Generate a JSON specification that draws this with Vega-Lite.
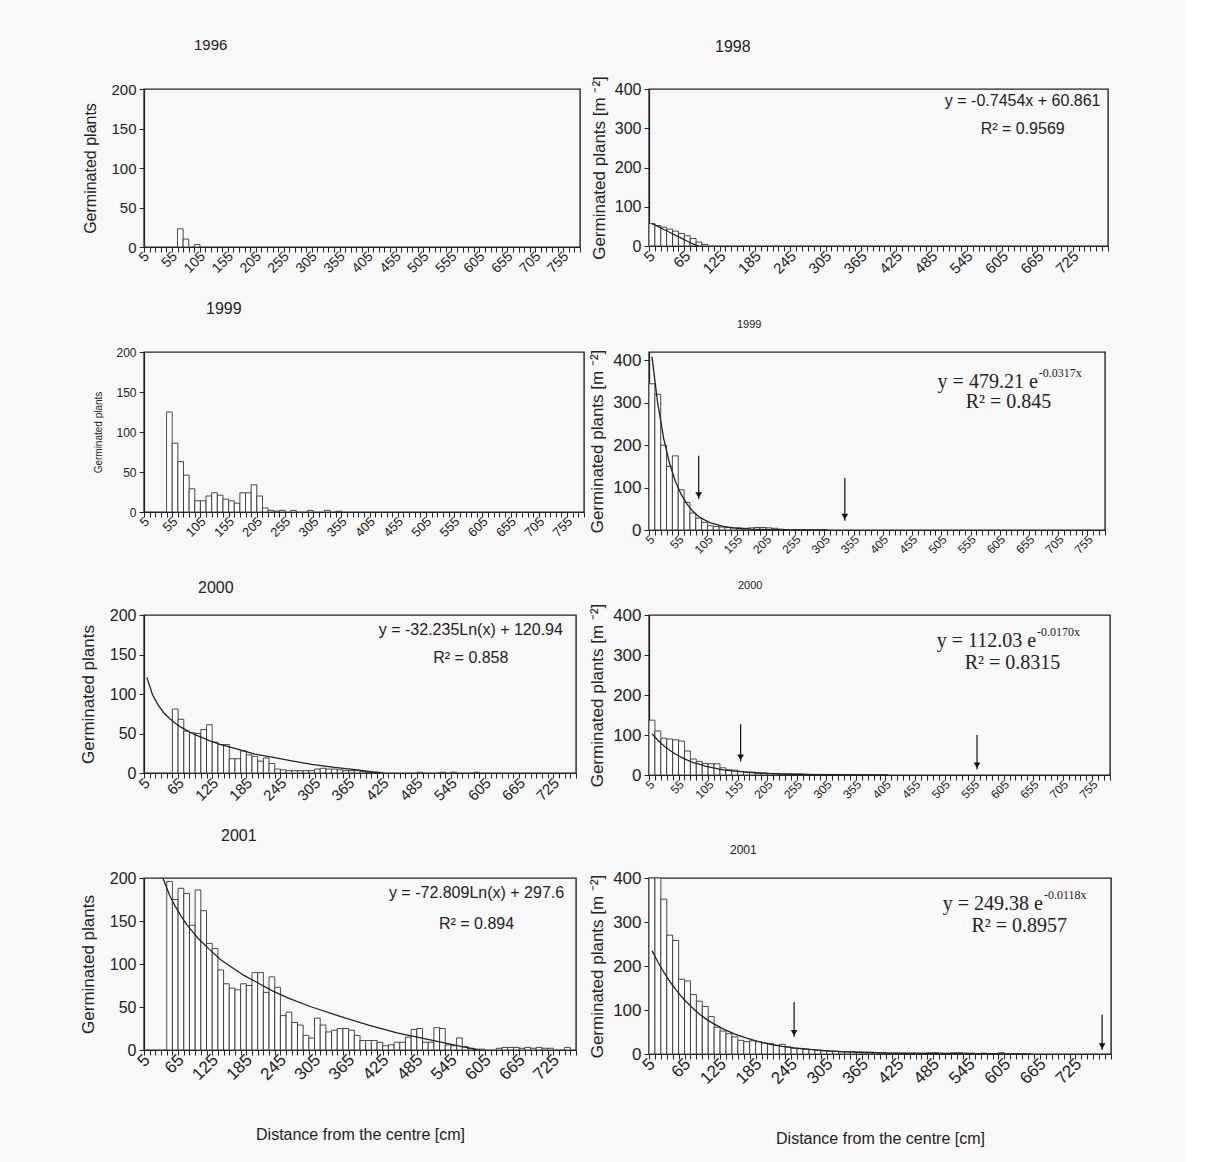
{
  "$schema": "https://vega.github.io/schema/vega-lite/v6.json",
  "background": "#f8f8f8",
  "padding": {"left": 78, "top": 37, "right": 70, "bottom": 20},
  "columns": 2,
  "spacing": {"row": 22, "column": 0},
  "bounds": "full",
  "config": {
    "font": "Liberation Sans",
    "view": {"stroke": "#222", "strokeWidth": 1.4},
    "axis": {"grid": false, "domainColor": "#222", "tickColor": "#222", "labelColor": "#222", "titleColor": "#222", "labelFont": "Liberation Sans", "titleFont": "Liberation Sans", "titleFontWeight": "normal", "domainWidth": 1.2, "tickWidth": 1},
    "axisY": {"labelOverlap": false},
    "title": {"font": "Liberation Sans", "fontWeight": "normal", "color": "#222"},
    "bar": {"fill": "white", "stroke": "#333", "strokeWidth": 0.9},
    "line": {"stroke": "#222", "strokeWidth": 1.3},
    "text": {"font": "Liberation Sans", "color": "#222"}
  },
  "datasets": {
    "b96": [{"d":65,"v":23},{"d":75,"v":10},{"d":95,"v":3}],
    "b98": [{"d":5,"v":57},{"d":15,"v":52},{"d":25,"v":48},{"d":35,"v":43},{"d":45,"v":38},{"d":55,"v":32},{"d":65,"v":26},{"d":75,"v":19},{"d":85,"v":10},{"d":95,"v":4}],
    "l98": [{"d":5,"v":57},{"d":15,"v":50},{"d":25,"v":42},{"d":35,"v":35},{"d":45,"v":27},{"d":55,"v":20},{"d":65,"v":12},{"d":75,"v":5},{"d":85,"v":0}],
    "t98": [{"d":635,"v":370,"t":"y = -0.7454x + 60.861"},{"d":635,"v":299,"t":"R² = 0.9569"}],
    "b99L": [{"d":45,"v":125},{"d":55,"v":86},{"d":65,"v":63},{"d":75,"v":46},{"d":85,"v":29},{"d":95,"v":14},{"d":105,"v":14},{"d":115,"v":20},{"d":125,"v":24},{"d":135,"v":21},{"d":145,"v":16},{"d":155,"v":14},{"d":165,"v":11},{"d":175,"v":24},{"d":185,"v":24},{"d":195,"v":34},{"d":205,"v":20},{"d":215,"v":5},{"d":225,"v":2},{"d":235,"v":1},{"d":245,"v":2},{"d":265,"v":2},{"d":295,"v":2},{"d":325,"v":2},{"d":345,"v":1}],
    "b99R": [{"d":5,"v":345},{"d":15,"v":320},{"d":25,"v":200},{"d":35,"v":150},{"d":45,"v":175},{"d":55,"v":95},{"d":65,"v":65},{"d":75,"v":40},{"d":85,"v":28},{"d":95,"v":18},{"d":105,"v":10},{"d":115,"v":8},{"d":125,"v":7},{"d":135,"v":6},{"d":145,"v":5},{"d":155,"v":5},{"d":165,"v":4},{"d":175,"v":5},{"d":185,"v":6},{"d":195,"v":6},{"d":205,"v":5},{"d":215,"v":4},{"d":225,"v":2},{"d":235,"v":1}],
    "l99R": [{"d":5,"v":409},{"d":15,"v":298},{"d":25,"v":217},{"d":35,"v":158},{"d":45,"v":115},{"d":55,"v":84},{"d":65,"v":61},{"d":75,"v":44},{"d":85,"v":32},{"d":95,"v":24},{"d":105,"v":17},{"d":115,"v":13},{"d":125,"v":9},{"d":135,"v":7},{"d":145,"v":5},{"d":155,"v":3.5},{"d":175,"v":2},{"d":205,"v":1},{"d":245,"v":0.3},{"d":305,"v":0}],
    "a99R": [{"d":85,"top":175,"tip":73},{"d":335,"top":123,"tip":22}],
    "e99R": [{"d":665,"v":349,"t":"y = 479.21 e","s":"-0.0317x"}],
    "r99R": [{"d":615,"v":302,"t":"R² = 0.845"}],
    "b00L": [{"d":55,"v":81},{"d":65,"v":68},{"d":75,"v":53},{"d":85,"v":51},{"d":95,"v":50},{"d":105,"v":55},{"d":115,"v":61},{"d":125,"v":39},{"d":135,"v":36},{"d":145,"v":36},{"d":155,"v":18},{"d":165,"v":18},{"d":175,"v":28},{"d":185,"v":23},{"d":195,"v":21},{"d":205,"v":15},{"d":215,"v":19},{"d":225,"v":12},{"d":235,"v":5},{"d":245,"v":4},{"d":255,"v":3},{"d":265,"v":3},{"d":275,"v":3},{"d":285,"v":3},{"d":295,"v":3},{"d":305,"v":5},{"d":315,"v":6},{"d":325,"v":5},{"d":335,"v":5},{"d":345,"v":4},{"d":355,"v":3},{"d":365,"v":3},{"d":375,"v":3},{"d":385,"v":2},{"d":395,"v":1},{"d":405,"v":1},{"d":415,"v":1},{"d":485,"v":1},{"d":525,"v":1},{"d":545,"v":1},{"d":585,"v":1}],
    "l00L": [{"d":5,"v":121},{"d":15,"v":99},{"d":25,"v":86},{"d":35,"v":76},{"d":45,"v":69},{"d":55,"v":63},{"d":65,"v":58},{"d":75,"v":54},{"d":85,"v":50},{"d":95,"v":47},{"d":115,"v":41},{"d":135,"v":36},{"d":155,"v":32},{"d":175,"v":28},{"d":195,"v":24},{"d":225,"v":20},{"d":255,"v":16},{"d":295,"v":11},{"d":335,"v":7},{"d":375,"v":4},{"d":405,"v":1.2},{"d":415,"v":0.4}],
    "t00L": [{"d":575,"v":181,"t":"y = -32.235Ln(x) + 120.94"},{"d":575,"v":145,"t":"R² = 0.858"}],
    "b00R": [{"d":5,"v":137},{"d":15,"v":110},{"d":25,"v":92},{"d":35,"v":90},{"d":45,"v":88},{"d":55,"v":85},{"d":65,"v":60},{"d":75,"v":40},{"d":85,"v":34},{"d":95,"v":29},{"d":105,"v":28},{"d":115,"v":28},{"d":125,"v":18},{"d":135,"v":13},{"d":145,"v":12},{"d":155,"v":9},{"d":165,"v":7},{"d":175,"v":7},{"d":185,"v":5},{"d":195,"v":5},{"d":205,"v":4},{"d":215,"v":4},{"d":225,"v":3},{"d":235,"v":3},{"d":245,"v":3},{"d":255,"v":3},{"d":265,"v":2}],
    "l00R": [{"d":5,"v":103},{"d":15,"v":87},{"d":25,"v":73},{"d":35,"v":62},{"d":45,"v":52},{"d":55,"v":44},{"d":65,"v":37},{"d":75,"v":31},{"d":85,"v":27},{"d":95,"v":22},{"d":105,"v":19},{"d":125,"v":13},{"d":145,"v":9.5},{"d":165,"v":7},{"d":185,"v":5},{"d":205,"v":3.4},{"d":245,"v":1.7},{"d":305,"v":0.6},{"d":405,"v":0.1}],
    "a00R": [{"d":155,"top":127,"tip":34},{"d":555,"top":100,"tip":14}],
    "e00R": [{"d":655,"v":334,"t":"y = 112.03 e","s":"-0.0170x"}],
    "r00R": [{"d":615,"v":281,"t":"R² = 0.8315"}],
    "b01L": [{"d":45,"v":196},{"d":55,"v":175},{"d":65,"v":188},{"d":75,"v":182},{"d":85,"v":145},{"d":95,"v":186},{"d":105,"v":162},{"d":115,"v":124},{"d":125,"v":118},{"d":135,"v":93},{"d":145,"v":77},{"d":155,"v":72},{"d":165,"v":70},{"d":175,"v":77},{"d":185,"v":75},{"d":195,"v":90},{"d":205,"v":90},{"d":215,"v":67},{"d":225,"v":85},{"d":235,"v":73},{"d":245,"v":40},{"d":255,"v":44},{"d":265,"v":32},{"d":275,"v":29},{"d":285,"v":17},{"d":295,"v":14},{"d":305,"v":37},{"d":315,"v":29},{"d":325,"v":21},{"d":335,"v":23},{"d":345,"v":25},{"d":355,"v":25},{"d":365,"v":23},{"d":375,"v":17},{"d":385,"v":11},{"d":395,"v":11},{"d":405,"v":11},{"d":415,"v":9},{"d":425,"v":5},{"d":435,"v":6},{"d":445,"v":9},{"d":455,"v":9},{"d":465,"v":15},{"d":475,"v":24},{"d":485,"v":25},{"d":495,"v":9},{"d":505,"v":9},{"d":515,"v":26},{"d":525,"v":25},{"d":535,"v":6},{"d":545,"v":5},{"d":555,"v":14},{"d":565,"v":4},{"d":575,"v":2},{"d":585,"v":1},{"d":595,"v":1},{"d":625,"v":2},{"d":635,"v":3},{"d":645,"v":3},{"d":655,"v":3},{"d":665,"v":2},{"d":675,"v":3},{"d":685,"v":2},{"d":695,"v":3},{"d":705,"v":2},{"d":715,"v":2},{"d":745,"v":3}],
    "l01L": [{"d":25,"v":218},{"d":35,"v":197},{"d":45,"v":180},{"d":55,"v":167},{"d":65,"v":156},{"d":75,"v":146},{"d":85,"v":138},{"d":95,"v":130},{"d":115,"v":117},{"d":135,"v":105},{"d":155,"v":96},{"d":175,"v":87},{"d":195,"v":80},{"d":225,"v":69},{"d":255,"v":60},{"d":295,"v":50},{"d":345,"v":39},{"d":395,"v":29},{"d":445,"v":20},{"d":495,"v":13},{"d":545,"v":6},{"d":575,"v":2},{"d":585,"v":0.7}],
    "t01L": [{"d":585,"v":183,"t":"y = -72.809Ln(x) + 297.6"},{"d":585,"v":147,"t":"R² = 0.894"}],
    "b01R": [{"d":5,"v":400},{"d":15,"v":400},{"d":25,"v":352},{"d":35,"v":270},{"d":45,"v":258},{"d":55,"v":170},{"d":65,"v":166},{"d":75,"v":135},{"d":85,"v":120},{"d":95,"v":108},{"d":105,"v":85},{"d":115,"v":61},{"d":125,"v":52},{"d":135,"v":46},{"d":145,"v":39},{"d":155,"v":31},{"d":165,"v":28},{"d":175,"v":30},{"d":185,"v":28},{"d":195,"v":25},{"d":205,"v":24},{"d":215,"v":20},{"d":225,"v":22},{"d":235,"v":16},{"d":245,"v":13},{"d":255,"v":12},{"d":265,"v":11},{"d":275,"v":10},{"d":285,"v":9},{"d":295,"v":7},{"d":305,"v":6},{"d":315,"v":6},{"d":325,"v":5},{"d":335,"v":5},{"d":345,"v":5},{"d":355,"v":4},{"d":365,"v":4},{"d":375,"v":4},{"d":385,"v":3},{"d":395,"v":3},{"d":405,"v":2},{"d":415,"v":2},{"d":425,"v":2},{"d":435,"v":2},{"d":445,"v":2},{"d":455,"v":2},{"d":465,"v":2},{"d":475,"v":3},{"d":485,"v":3},{"d":495,"v":2},{"d":505,"v":2},{"d":515,"v":3},{"d":525,"v":3},{"d":535,"v":2},{"d":545,"v":2},{"d":555,"v":1},{"d":565,"v":2},{"d":575,"v":1},{"d":585,"v":1},{"d":595,"v":3}],
    "l01R": [{"d":5,"v":235},{"d":15,"v":209},{"d":25,"v":186},{"d":35,"v":165},{"d":45,"v":147},{"d":55,"v":130},{"d":65,"v":116},{"d":75,"v":103},{"d":85,"v":91},{"d":95,"v":81},{"d":105,"v":72},{"d":125,"v":57},{"d":145,"v":45},{"d":165,"v":36},{"d":185,"v":28},{"d":205,"v":22},{"d":225,"v":17.5},{"d":245,"v":14},{"d":285,"v":9},{"d":325,"v":5.4},{"d":365,"v":3.4},{"d":405,"v":2.1},{"d":485,"v":0.8},{"d":565,"v":0.3},{"d":645,"v":0.1}],
    "a01R": [{"d":245,"top":118,"tip":39},{"d":765,"top":89,"tip":9}],
    "e01R": [{"d":665,"v":341,"t":"y = 249.38 e","s":"-0.0118x"}],
    "r01R": [{"d":625,"v":292,"t":"R² = 0.8957"}]
  },
  "concat": [
    {
      "width": 436, "height": 158,
      "title": {"text": "1996", "anchor": "start", "frame": "group", "dx": 50, "offset": 29, "fontSize": 15},
      "encoding": {"x": {"field": "d", "type": "ordinal", "scale": {"domain": [5,15,25,35,45,55,65,75,85,95,105,115,125,135,145,155,165,175,185,195,205,215,225,235,245,255,265,275,285,295,305,315,325,335,345,355,365,375,385,395,405,415,425,435,445,455,465,475,485,495,505,515,525,535,545,555,565,575,585,595,605,615,625,635,645,655,665,675,685,695,705,715,725,735,745,755,765,775], "paddingInner": 0, "paddingOuter": 0},
        "axis": {"title": null, "labelAngle": -45, "labelAlign": "right", "labelBaseline": "middle", "labelExpr": "(datum.value - 5) % 50 == 0 ? datum.value : ''", "labelOverlap": false, "tickBand": "extent", "tickSize": 5, "labelFontSize": 14, "labelPadding": 2}}},
      "layer": [
        {"data": {"name": "b96"}, "mark": "bar", "encoding": {"y": {"field": "v", "type": "quantitative", "scale": {"domain": [0, 200], "nice": false}, "axis": {"title": "Germinated plants", "values": [0,50,100,150,200], "labelOverlap": false, "tickSize": 5, "labelFontSize": 15, "titleFontSize": 16, "titlePadding": 12, "labelPadding": 3}}}}
      ]
    },
    {
      "width": 459, "height": 157,
      "title": {"text": "1998", "anchor": "start", "frame": "group", "dx": 66, "offset": 21, "fontSize": 16},
      "encoding": {"x": {"field": "d", "type": "ordinal", "scale": {"domain": [5,15,25,35,45,55,65,75,85,95,105,115,125,135,145,155,165,175,185,195,205,215,225,235,245,255,265,275,285,295,305,315,325,335,345,355,365,375,385,395,405,415,425,435,445,455,465,475,485,495,505,515,525,535,545,555,565,575,585,595,605,615,625,635,645,655,665,675,685,695,705,715,725,735,745,755,765,775], "paddingInner": 0, "paddingOuter": 0},
        "axis": {"title": null, "labelAngle": -45, "labelAlign": "right", "labelBaseline": "middle", "labelExpr": "(datum.value - 5) % 60 == 0 ? datum.value : ''", "labelOverlap": false, "tickBand": "extent", "tickSize": 5, "labelFontSize": 15, "labelPadding": 2}}},
      "layer": [
        {"data": {"name": "b98"}, "mark": "bar", "encoding": {"y": {"field": "v", "type": "quantitative", "scale": {"domain": [0, 400], "nice": false}, "axis": {"title": "Germinated plants [m ⁻²]", "values": [0,100,200,300,400], "labelOverlap": false, "tickSize": 5, "labelFontSize": 16, "titleFontSize": 17, "titlePadding": 6, "labelPadding": 3}}}},
        {"data": {"name": "l98"}, "mark": {"type": "line", "clip": true}, "encoding": {"y": {"field": "v", "type": "quantitative", "axis": {"values": [0,100,200,300,400]}}}},
        {"data": {"name": "t98"}, "mark": {"type": "text", "fontSize": 16, "align": "center", "baseline": "middle"}, "encoding": {"y": {"field": "v", "type": "quantitative", "axis": {"values": [0,100,200,300,400]}}, "text": {"field": "t"}}}
      ]
    },
    {
      "width": 440, "height": 160,
      "title": {"text": "1999", "anchor": "start", "frame": "group", "dx": 62, "offset": 29, "fontSize": 16},
      "encoding": {"x": {"field": "d", "type": "ordinal", "scale": {"domain": [5,15,25,35,45,55,65,75,85,95,105,115,125,135,145,155,165,175,185,195,205,215,225,235,245,255,265,275,285,295,305,315,325,335,345,355,365,375,385,395,405,415,425,435,445,455,465,475,485,495,505,515,525,535,545,555,565,575,585,595,605,615,625,635,645,655,665,675,685,695,705,715,725,735,745,755,765,775], "paddingInner": 0, "paddingOuter": 0},
        "axis": {"title": null, "labelAngle": -45, "labelAlign": "right", "labelBaseline": "middle", "labelExpr": "(datum.value - 5) % 50 == 0 ? datum.value : ''", "labelOverlap": false, "tickBand": "extent", "tickSize": 5, "labelFontSize": 13, "labelPadding": 2}}},
      "layer": [
        {"data": {"name": "b99L"}, "mark": "bar", "encoding": {"y": {"field": "v", "type": "quantitative", "scale": {"domain": [0, 200], "nice": false}, "axis": {"title": "Germinated plants", "values": [0,50,100,150,200], "labelOverlap": false, "tickSize": 5, "labelFontSize": 12, "titleFontSize": 10, "titlePadding": 12, "labelPadding": 3}}}}
      ]
    },
    {
      "width": 456, "height": 178,
      "title": {"text": "1999", "anchor": "start", "frame": "group", "dx": 88, "offset": 19, "fontSize": 11},
      "encoding": {"x": {"field": "d", "type": "ordinal", "scale": {"domain": [5,15,25,35,45,55,65,75,85,95,105,115,125,135,145,155,165,175,185,195,205,215,225,235,245,255,265,275,285,295,305,315,325,335,345,355,365,375,385,395,405,415,425,435,445,455,465,475,485,495,505,515,525,535,545,555,565,575,585,595,605,615,625,635,645,655,665,675,685,695,705,715,725,735,745,755,765,775], "paddingInner": 0, "paddingOuter": 0},
        "axis": {"title": null, "labelAngle": -45, "labelAlign": "right", "labelBaseline": "middle", "labelExpr": "(datum.value - 5) % 50 == 0 ? datum.value : ''", "labelOverlap": false, "tickBand": "extent", "tickSize": 5, "labelFontSize": 12, "labelPadding": 2}}},
      "layer": [
        {"data": {"name": "b99R"}, "mark": "bar", "encoding": {"y": {"field": "v", "type": "quantitative", "scale": {"domain": [0, 420], "nice": false}, "axis": {"title": "Germinated plants [m ⁻²]", "values": [0,100,200,300,400], "labelOverlap": false, "tickSize": 5, "labelFontSize": 17, "titleFontSize": 17, "titlePadding": 6, "labelPadding": 3}}}},
        {"data": {"name": "l99R"}, "mark": {"type": "line", "clip": true}, "encoding": {"y": {"field": "v", "type": "quantitative", "axis": {"values": [0,100,200,300,400]}}}},
        {"data": {"name": "a99R"}, "mark": {"type": "rule", "color": "#111", "strokeWidth": 1.2}, "encoding": {"y": {"field": "top", "type": "quantitative", "axis": {"values": [0,100,200,300,400]}}, "y2": {"field": "tip"}}},
        {"data": {"name": "a99R"}, "mark": {"type": "point", "shape": "triangle-down", "filled": true, "color": "#111", "size": 45, "opacity": 1, "yOffset": -4}, "encoding": {"y": {"field": "tip", "type": "quantitative", "axis": {"values": [0,100,200,300,400]}}}},
        {"data": {"name": "e99R"}, "mark": {"type": "text", "font": "Liberation Serif", "fontSize": 20, "align": "right", "baseline": "middle"}, "encoding": {"y": {"field": "v", "type": "quantitative", "axis": {"values": [0,100,200,300,400]}}, "text": {"field": "t"}}},
        {"data": {"name": "e99R"}, "mark": {"type": "text", "font": "Liberation Serif", "fontSize": 12, "align": "left", "baseline": "middle", "dx": 1, "dy": -9}, "encoding": {"y": {"field": "v", "type": "quantitative", "axis": {"values": [0,100,200,300,400]}}, "text": {"field": "s"}}},
        {"data": {"name": "r99R"}, "mark": {"type": "text", "font": "Liberation Serif", "fontSize": 20, "align": "center", "baseline": "middle"}, "encoding": {"y": {"field": "v", "type": "quantitative", "axis": {"values": [0,100,200,300,400]}}, "text": {"field": "t"}}}
      ]
    },
    {
      "width": 432, "height": 158,
      "title": {"text": "2000", "anchor": "start", "frame": "group", "dx": 54, "offset": 11, "fontSize": 16},
      "encoding": {"x": {"field": "d", "type": "ordinal", "scale": {"domain": [5,15,25,35,45,55,65,75,85,95,105,115,125,135,145,155,165,175,185,195,205,215,225,235,245,255,265,275,285,295,305,315,325,335,345,355,365,375,385,395,405,415,425,435,445,455,465,475,485,495,505,515,525,535,545,555,565,575,585,595,605,615,625,635,645,655,665,675,685,695,705,715,725,735,745,755], "paddingInner": 0, "paddingOuter": 0},
        "axis": {"title": null, "labelAngle": -45, "labelAlign": "right", "labelBaseline": "middle", "labelExpr": "(datum.value - 5) % 60 == 0 ? datum.value : ''", "labelOverlap": false, "tickBand": "extent", "tickSize": 5, "labelFontSize": 15, "labelPadding": 2}}},
      "layer": [
        {"data": {"name": "b00L"}, "mark": "bar", "encoding": {"y": {"field": "v", "type": "quantitative", "scale": {"domain": [0, 200], "nice": false}, "axis": {"title": "Germinated plants", "values": [0,50,100,150,200], "labelOverlap": false, "tickSize": 5, "labelFontSize": 16, "titleFontSize": 17, "titlePadding": 12, "labelPadding": 3}}}},
        {"data": {"name": "l00L"}, "mark": {"type": "line", "clip": true}, "encoding": {"y": {"field": "v", "type": "quantitative", "axis": {"values": [0,50,100,150,200]}}}},
        {"data": {"name": "t00L"}, "mark": {"type": "text", "fontSize": 16, "align": "center", "baseline": "middle"}, "encoding": {"y": {"field": "v", "type": "quantitative", "axis": {"values": [0,50,100,150,200]}}, "text": {"field": "t"}}}
      ]
    },
    {
      "width": 461, "height": 160,
      "title": {"text": "2000", "anchor": "start", "frame": "group", "dx": 89, "offset": 12, "fontSize": 11},
      "encoding": {"x": {"field": "d", "type": "ordinal", "scale": {"domain": [5,15,25,35,45,55,65,75,85,95,105,115,125,135,145,155,165,175,185,195,205,215,225,235,245,255,265,275,285,295,305,315,325,335,345,355,365,375,385,395,405,415,425,435,445,455,465,475,485,495,505,515,525,535,545,555,565,575,585,595,605,615,625,635,645,655,665,675,685,695,705,715,725,735,745,755,765,775], "paddingInner": 0, "paddingOuter": 0},
        "axis": {"title": null, "labelAngle": -45, "labelAlign": "right", "labelBaseline": "middle", "labelExpr": "(datum.value - 5) % 50 == 0 ? datum.value : ''", "labelOverlap": false, "tickBand": "extent", "tickSize": 5, "labelFontSize": 12, "labelPadding": 2}}},
      "layer": [
        {"data": {"name": "b00R"}, "mark": "bar", "encoding": {"y": {"field": "v", "type": "quantitative", "scale": {"domain": [0, 400], "nice": false}, "axis": {"title": "Germinated plants [m ⁻²]", "values": [0,100,200,300,400], "labelOverlap": false, "tickSize": 5, "labelFontSize": 17, "titleFontSize": 17, "titlePadding": 6, "labelPadding": 3}}}},
        {"data": {"name": "l00R"}, "mark": {"type": "line", "clip": true}, "encoding": {"y": {"field": "v", "type": "quantitative", "axis": {"values": [0,100,200,300,400]}}}},
        {"data": {"name": "a00R"}, "mark": {"type": "rule", "color": "#111", "strokeWidth": 1.2}, "encoding": {"y": {"field": "top", "type": "quantitative", "axis": {"values": [0,100,200,300,400]}}, "y2": {"field": "tip"}}},
        {"data": {"name": "a00R"}, "mark": {"type": "point", "shape": "triangle-down", "filled": true, "color": "#111", "size": 45, "opacity": 1, "yOffset": -4}, "encoding": {"y": {"field": "tip", "type": "quantitative", "axis": {"values": [0,100,200,300,400]}}}},
        {"data": {"name": "e00R"}, "mark": {"type": "text", "font": "Liberation Serif", "fontSize": 20, "align": "right", "baseline": "middle"}, "encoding": {"y": {"field": "v", "type": "quantitative", "axis": {"values": [0,100,200,300,400]}}, "text": {"field": "t"}}},
        {"data": {"name": "e00R"}, "mark": {"type": "text", "font": "Liberation Serif", "fontSize": 12, "align": "left", "baseline": "middle", "dx": 1, "dy": -9}, "encoding": {"y": {"field": "v", "type": "quantitative", "axis": {"values": [0,100,200,300,400]}}, "text": {"field": "s"}}},
        {"data": {"name": "r00R"}, "mark": {"type": "text", "font": "Liberation Serif", "fontSize": 20, "align": "center", "baseline": "middle"}, "encoding": {"y": {"field": "v", "type": "quantitative", "axis": {"values": [0,100,200,300,400]}}, "text": {"field": "t"}}}
      ]
    },
    {
      "width": 432, "height": 172,
      "title": {"text": "2001", "anchor": "start", "frame": "group", "dx": 77, "offset": 26, "fontSize": 16},
      "encoding": {"x": {"field": "d", "type": "ordinal", "scale": {"domain": [5,15,25,35,45,55,65,75,85,95,105,115,125,135,145,155,165,175,185,195,205,215,225,235,245,255,265,275,285,295,305,315,325,335,345,355,365,375,385,395,405,415,425,435,445,455,465,475,485,495,505,515,525,535,545,555,565,575,585,595,605,615,625,635,645,655,665,675,685,695,705,715,725,735,745,755], "paddingInner": 0, "paddingOuter": 0},
        "axis": {"title": "Distance from the centre [cm]", "titleFontSize": 16, "titlePadding": 44, "labelAngle": -45, "labelAlign": "right", "labelBaseline": "middle", "labelExpr": "(datum.value - 5) % 60 == 0 ? datum.value : ''", "labelOverlap": false, "tickBand": "extent", "tickSize": 5, "labelFontSize": 17, "labelPadding": 2}}},
      "layer": [
        {"data": {"name": "b01L"}, "mark": "bar", "encoding": {"y": {"field": "v", "type": "quantitative", "scale": {"domain": [0, 200], "nice": false}, "axis": {"title": "Germinated plants", "values": [0,50,100,150,200], "labelOverlap": false, "tickSize": 5, "labelFontSize": 16, "titleFontSize": 17, "titlePadding": 12, "labelPadding": 3}}}},
        {"data": {"name": "l01L"}, "mark": {"type": "line", "clip": true}, "encoding": {"y": {"field": "v", "type": "quantitative", "axis": {"values": [0,50,100,150,200]}}}},
        {"data": {"name": "t01L"}, "mark": {"type": "text", "fontSize": 16, "align": "center", "baseline": "middle"}, "encoding": {"y": {"field": "v", "type": "quantitative", "axis": {"values": [0,50,100,150,200]}}, "text": {"field": "t"}}}
      ]
    },
    {
      "width": 462, "height": 176,
      "title": {"text": "2001", "anchor": "start", "frame": "group", "dx": 81, "offset": 12, "fontSize": 12},
      "encoding": {"x": {"field": "d", "type": "ordinal", "scale": {"domain": [5,15,25,35,45,55,65,75,85,95,105,115,125,135,145,155,165,175,185,195,205,215,225,235,245,255,265,275,285,295,305,315,325,335,345,355,365,375,385,395,405,415,425,435,445,455,465,475,485,495,505,515,525,535,545,555,565,575,585,595,605,615,625,635,645,655,665,675,685,695,705,715,725,735,745,755,765,775], "paddingInner": 0, "paddingOuter": 0},
        "axis": {"title": "Distance from the centre [cm]", "titleFontSize": 16, "titlePadding": 44, "labelAngle": -45, "labelAlign": "right", "labelBaseline": "middle", "labelExpr": "(datum.value - 5) % 60 == 0 ? datum.value : ''", "labelOverlap": false, "tickBand": "extent", "tickSize": 5, "labelFontSize": 17, "labelPadding": 2}}},
      "layer": [
        {"data": {"name": "b01R"}, "mark": "bar", "encoding": {"y": {"field": "v", "type": "quantitative", "scale": {"domain": [0, 400], "nice": false}, "axis": {"title": "Germinated plants [m ⁻²]", "values": [0,100,200,300,400], "labelOverlap": false, "tickSize": 5, "labelFontSize": 17, "titleFontSize": 17, "titlePadding": 6, "labelPadding": 3}}}},
        {"data": {"name": "l01R"}, "mark": {"type": "line", "clip": true}, "encoding": {"y": {"field": "v", "type": "quantitative", "axis": {"values": [0,100,200,300,400]}}}},
        {"data": {"name": "a01R"}, "mark": {"type": "rule", "color": "#111", "strokeWidth": 1.2}, "encoding": {"y": {"field": "top", "type": "quantitative", "axis": {"values": [0,100,200,300,400]}}, "y2": {"field": "tip"}}},
        {"data": {"name": "a01R"}, "mark": {"type": "point", "shape": "triangle-down", "filled": true, "color": "#111", "size": 45, "opacity": 1, "yOffset": -4}, "encoding": {"y": {"field": "tip", "type": "quantitative", "axis": {"values": [0,100,200,300,400]}}}},
        {"data": {"name": "e01R"}, "mark": {"type": "text", "font": "Liberation Serif", "fontSize": 20, "align": "right", "baseline": "middle"}, "encoding": {"y": {"field": "v", "type": "quantitative", "axis": {"values": [0,100,200,300,400]}}, "text": {"field": "t"}}},
        {"data": {"name": "e01R"}, "mark": {"type": "text", "font": "Liberation Serif", "fontSize": 12, "align": "left", "baseline": "middle", "dx": 1, "dy": -9}, "encoding": {"y": {"field": "v", "type": "quantitative", "axis": {"values": [0,100,200,300,400]}}, "text": {"field": "s"}}},
        {"data": {"name": "r01R"}, "mark": {"type": "text", "font": "Liberation Serif", "fontSize": 20, "align": "center", "baseline": "middle"}, "encoding": {"y": {"field": "v", "type": "quantitative", "axis": {"values": [0,100,200,300,400]}}, "text": {"field": "t"}}}
      ]
    }
  ]
}
